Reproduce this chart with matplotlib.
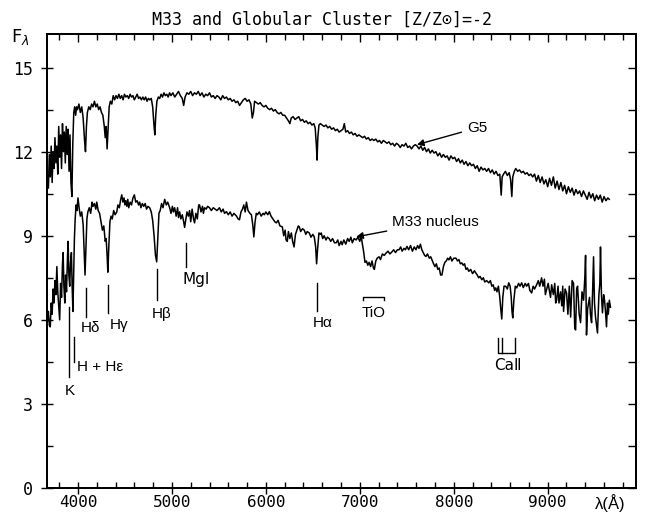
import numpy as np
import matplotlib
matplotlib.use("Agg")
import matplotlib.pyplot as plt
from matplotlib.ticker import MultipleLocator

# spectra: wavelength (A) and flux
g5_wave = [3672,3685,3695,3705,3715,3725,3735,3745,3755,3765,
           3775,3785,3795,3805,3815,3825,3835,3845,3855,3865,
           3875,3885,3895,3905,3915,3925,3935,3945,3955,3965,
           3975,3985,3995,4010,4025,4040,4055,4070,4080,4090,
           4100,4115,4130,4145,4160,4175,4190,4205,4220,4235,
           4250,4265,4280,4290,4300,4310,4320,4332,4345,4360,
           4375,4390,4405,4420,4435,4450,4465,4480,4495,4510,
           4525,4540,4555,4570,4585,4600,4615,4630,4645,4660,
           4675,4690,4705,4720,4735,4750,4765,4780,4795,4810,
           4818,4828,4840,4855,4870,4885,4900,4915,4930,4945,
           4960,4975,4990,5010,5030,5050,5070,5090,5110,5125,
           5140,5160,5180,5200,5220,5240,5260,5280,5300,5320,
           5340,5360,5380,5400,5420,5440,5460,5480,5500,5520,
           5540,5560,5580,5600,5620,5640,5660,5680,5700,5720,
           5740,5760,5780,5800,5820,5840,5855,5868,5880,5900,
           5920,5940,5960,5980,6000,6020,6040,6060,6080,6100,
           6120,6140,6160,6180,6200,6220,6240,6255,6270,6290,
           6310,6330,6350,6370,6390,6410,6430,6450,6470,6490,
           6510,6525,6538,6545,6553,6565,6580,6600,6620,6640,
           6660,6680,6700,6720,6740,6760,6780,6800,6820,6835,
           6850,6870,6890,6910,6930,6950,6970,6990,7010,7030,
           7050,7070,7090,7110,7130,7150,7170,7190,7210,7230,
           7250,7270,7290,7310,7330,7350,7370,7390,7410,7430,
           7450,7470,7490,7510,7530,7550,7570,7590,7610,7630,
           7650,7670,7690,7710,7730,7750,7770,7790,7810,7830,
           7850,7870,7890,7910,7930,7950,7970,7990,8010,8030,
           8050,8070,8090,8110,8130,8150,8170,8190,8210,8230,
           8250,8270,8290,8310,8330,8350,8370,8390,8410,8430,
           8450,8470,8490,8505,8515,8530,8550,8570,8590,8605,
           8618,8628,8645,8660,8680,8700,8720,8740,8760,8780,
           8800,8820,8840,8860,8880,8900,8920,8940,8960,8980,
           9000,9020,9040,9060,9080,9100,9120,9140,9160,9180,
           9200,9220,9240,9260,9280,9300,9320,9340,9360,9380,
           9400,9420,9440,9460,9480,9500,9520,9540,9560,9580,
           9600,9620,9640,9655]
g5_flux = [11.2,10.7,11.9,11.1,12.2,10.9,12.0,11.4,12.5,11.6,
           12.2,11.2,12.9,11.8,12.6,11.4,13.0,12.0,12.7,11.6,
           12.9,11.9,12.8,11.3,12.6,10.9,10.4,12.3,13.4,13.6,
           13.3,13.6,13.5,13.7,13.4,13.6,13.2,12.4,12.0,12.9,
           13.4,13.6,13.5,13.7,13.6,13.8,13.6,13.7,13.5,13.6,
           13.4,13.3,12.9,12.5,12.9,12.1,12.8,13.6,13.8,13.7,
           14.0,13.85,14.0,13.9,14.05,13.9,14.0,13.85,14.05,13.95,
           14.0,13.9,14.05,13.95,14.0,13.85,13.95,14.05,13.9,13.95,
           13.85,13.95,13.85,13.95,13.8,13.9,13.85,13.9,13.6,12.9,
           12.6,13.3,13.8,13.95,13.9,14.05,13.95,14.1,14.0,14.05,
           13.95,14.1,14.0,14.1,13.95,14.05,14.15,14.0,13.9,13.65,
           13.95,14.1,14.05,14.15,14.0,14.1,14.05,14.15,14.0,14.1,
           13.95,14.05,14.0,14.1,13.95,14.0,13.9,14.0,13.95,13.85,
           14.0,13.9,13.95,13.85,13.9,13.8,13.85,13.75,13.8,13.65,
           13.75,13.85,13.9,13.8,13.85,13.7,13.2,13.4,13.8,13.75,
           13.7,13.75,13.65,13.6,13.65,13.55,13.5,13.55,13.45,13.5,
           13.4,13.35,13.4,13.3,13.3,13.2,13.1,13.0,13.2,13.25,
           13.15,13.2,13.25,13.1,13.15,13.05,13.1,13.0,13.05,12.95,
           13.0,12.85,12.2,11.7,12.5,12.95,13.0,12.95,12.9,12.95,
           12.85,12.9,12.8,12.85,12.75,12.8,12.7,12.75,12.8,13.0,
           12.7,12.75,12.65,12.7,12.6,12.65,12.55,12.6,12.55,12.5,
           12.55,12.45,12.5,12.4,12.45,12.4,12.45,12.35,12.4,12.3,
           12.4,12.35,12.3,12.35,12.25,12.3,12.2,12.3,12.25,12.15,
           12.25,12.2,12.3,12.15,12.2,12.1,12.2,12.25,12.2,12.1,
           12.2,12.05,12.15,12.0,12.1,11.95,12.05,11.95,12.0,11.85,
           11.95,11.8,11.9,11.8,11.85,11.7,11.85,11.75,11.8,11.65,
           11.75,11.6,11.7,11.55,11.65,11.5,11.6,11.5,11.55,11.4,
           11.5,11.3,11.45,11.35,11.4,11.3,11.4,11.25,11.35,11.2,
           11.3,11.15,11.2,10.45,11.1,11.2,11.3,11.15,11.25,11.0,
           10.4,11.1,11.3,11.4,11.3,11.35,11.25,11.3,11.2,11.25,
           11.15,11.2,11.1,11.2,10.95,11.15,10.9,11.1,10.85,11.0,
           10.75,11.05,10.8,11.1,10.7,10.95,10.65,10.9,10.6,10.8,
           10.5,10.75,10.55,10.7,10.45,10.65,10.5,10.6,10.4,10.6,
           10.45,10.3,10.55,10.35,10.5,10.25,10.45,10.3,10.45,10.2,
           10.4,10.25,10.35,10.3]

m33_wave = [3672,3685,3695,3705,3715,3725,3735,3745,3755,3765,
            3775,3785,3795,3805,3815,3825,3835,3842,3850,3860,
            3868,3878,3888,3895,3903,3912,3920,3930,3938,3946,
            3955,3962,3970,3980,3990,4000,4012,4025,4040,4055,
            4065,4075,4085,4095,4105,4120,4135,4150,4160,4175,
            4190,4200,4215,4230,4245,4260,4275,4290,4300,4310,
            4318,4328,4340,4352,4365,4380,4395,4413,4425,4440,
            4455,4466,4478,4490,4500,4509,4520,4530,4540,4555,
            4570,4585,4600,4615,4630,4645,4657,4670,4685,4700,
            4715,4730,4745,4763,4780,4795,4810,4825,4838,4850,
            4862,4875,4890,4905,4923,4940,4955,4976,4990,5005,
            5015,5029,5045,5060,5070,5082,5095,5110,5125,5135,
            5148,5160,5175,5188,5200,5215,5230,5241,5255,5270,
            5285,5294,5310,5325,5335,5347,5365,5380,5400,5420,
            5440,5460,5480,5506,5525,5545,5560,5580,5600,5620,
            5640,5660,5687,5705,5719,5735,5751,5765,5780,5793,
            5810,5830,5846,5860,5872,5885,5898,5910,5930,5950,
            5970,5984,6000,6020,6037,6055,6075,6095,6112,6130,
            6150,6175,6190,6205,6215,6228,6240,6255,6271,6285,
            6300,6315,6330,6345,6356,6370,6390,6409,6425,6440,
            6462,6480,6500,6515,6530,6540,6550,6565,6580,6589,
            6605,6620,6640,6655,6674,6690,6710,6730,6749,6765,
            6780,6800,6812,6830,6850,6870,6887,6905,6920,6940,
            6961,6980,7000,7015,7025,7040,7055,7070,7085,7099,
            7115,7130,7145,7155,7170,7185,7205,7220,7240,7260,
            7279,7300,7320,7343,7360,7380,7400,7417,7435,7450,
            7470,7485,7502,7520,7540,7560,7580,7598,7615,7630,
            7645,7660,7675,7690,7704,7720,7740,7755,7768,7785,
            7800,7815,7830,7845,7860,7874,7890,7905,7920,7935,
            7948,7965,7980,8000,8023,8040,8055,8070,8086,8100,
            8115,8130,8145,8160,8180,8200,8220,8235,8250,8265,
            8280,8299,8315,8330,8350,8373,8390,8405,8420,8435,
            8447,8460,8475,8490,8500,8511,8522,8535,8553,8570,
            8585,8600,8612,8620,8628,8640,8655,8670,8690,8705,
            8723,8740,8760,8776,8795,8810,8829,8845,8860,8882,
            8900,8915,8935,8950,8965,8975,8988,9005,9020,9030,
            9042,9060,9075,9085,9095,9110,9120,9137,9150,9160,
            9169,9185,9201,9215,9230,9244,9260,9275,9288,9297,
            9308,9318,9335,9350,9365,9382,9395,9403,9410,9413,
            9425,9445,9455,9467,9478,9488,9498,9509,9520,9530,
            9545,9555,9562,9572,9583,9595,9605,9615,9626,9636,
            9645,9656,9668]
m33_flux = [5.9,6.3,5.8,5.75,6.6,6.2,7.1,6.6,7.4,6.9,
            7.9,7.0,6.5,6.0,7.3,6.8,8.0,8.4,7.2,6.6,
            7.6,7.0,8.2,8.8,7.6,7.2,8.0,8.4,7.2,6.3,
            7.8,8.9,9.6,10.1,9.9,10.35,10.0,9.7,9.85,9.4,
            8.5,7.6,8.6,9.6,9.85,10.0,9.8,10.2,10.05,10.15,
            9.95,10.2,9.9,9.8,9.5,9.2,9.35,8.8,8.9,8.3,
            7.7,8.6,9.5,9.7,9.6,9.9,9.75,9.85,10.1,10.0,
            10.3,10.46,10.2,10.35,10.1,10.25,10.05,10.3,10.0,10.2,
            10.1,10.35,10.46,10.2,10.25,10.1,10.2,10.0,10.15,10.05,
            10.15,9.95,10.05,10.0,9.85,9.55,9.0,8.3,8.07,8.9,
            9.8,9.9,10.15,10.0,10.3,10.1,10.2,10.0,9.8,10.05,
            9.85,10.0,9.7,10.0,9.65,9.85,9.6,9.75,9.5,9.3,
            9.6,9.85,9.7,9.9,9.5,9.95,9.6,9.46,9.8,9.6,
            10.1,10.1,9.85,10.05,9.8,10.0,9.95,10.05,10.0,9.9,
            10.0,9.95,9.9,10.0,9.85,9.95,9.8,9.86,9.75,9.85,
            9.7,9.8,9.7,9.6,9.57,9.85,9.95,10.1,9.85,10.2,
            9.9,9.8,9.75,9.4,8.96,9.5,9.8,9.75,9.85,9.7,
            9.8,9.75,9.85,9.75,9.86,9.7,9.6,9.5,9.46,9.55,
            9.35,9.32,9.0,9.2,8.85,8.8,9.15,8.9,9.1,8.8,
            8.6,9.05,9.2,9.35,9.32,9.15,9.25,9.2,9.05,9.15,
            9.1,8.95,9.05,8.96,8.6,8.0,8.5,9.1,9.05,9.1,
            8.9,9.0,8.85,8.95,8.9,8.8,8.9,8.75,8.75,8.85,
            8.65,8.8,8.68,8.85,8.7,8.9,8.8,8.95,8.75,8.9,
            8.85,8.95,8.8,9.0,8.75,8.45,8.05,8.1,7.95,8.05,
            7.9,8.1,7.85,7.8,8.1,8.2,8.25,8.15,8.35,8.3,
            8.38,8.45,8.35,8.43,8.5,8.4,8.5,8.5,8.6,8.45,
            8.55,8.5,8.62,8.5,8.65,8.45,8.6,8.5,8.65,8.55,
            8.7,8.5,8.4,8.3,8.26,8.35,8.2,8.25,8.14,8.0,
            7.9,8.0,7.8,7.85,7.6,7.6,7.9,8.05,8.1,8.2,
            8.14,8.25,8.1,8.2,8.2,8.1,8.15,8.0,8.03,7.95,
            8.0,7.8,7.85,7.73,7.8,7.65,7.75,7.67,7.6,7.5,
            7.55,7.43,7.5,7.35,7.4,7.32,7.4,7.2,7.25,7.05,
            7.14,7.0,7.2,6.8,6.4,6.03,6.8,7.2,7.2,7.1,
            7.32,7.2,6.8,6.3,6.07,6.7,7.2,7.14,7.3,7.2,
            7.32,7.15,7.3,7.2,7.3,7.05,6.96,7.2,7.1,7.25,
            7.4,7.2,7.5,7.2,7.45,6.9,7.07,7.3,7.0,6.8,
            7.25,6.9,7.3,6.6,6.7,7.2,6.6,7.0,6.5,7.2,
            6.3,7.1,6.95,6.2,7.2,6.1,7.4,7.3,5.7,5.64,
            7.1,7.2,6.2,5.9,7.0,6.7,7.5,8.3,6.5,5.46,
            6.4,6.8,6.2,5.9,7.0,8.25,6.6,6.1,5.8,5.53,
            6.9,7.3,8.6,6.9,6.25,6.9,6.7,6.3,5.75,6.6,
            6.2,6.7,6.45]

# line identifications: label, wavelength of the marker, marker top/bottom
line_labels = ["K", "H + H\u03b5", "H\u03b4", "H\u03b3", "H\u03b2", "Mg\u2160", "H\u03b1"]
line_waves = [3905, 3955, 4084, 4318, 4838, 5146, 6547]
line_top = [6.45, 5.4, 7.15, 7.25, 7.8, 8.75, 7.3]
line_bot = [3.95, 4.5, 6.1, 6.25, 6.7, 7.9, 6.3]

mono = ["DejaVu Sans Mono", "DejaVu Sans"]
sans = ["Liberation Sans", "DejaVu Sans"]
roman = ["DejaVu Sans"]

fig = plt.figure(figsize=(6.48, 5.14), dpi=100)
ax = fig.add_axes([0.0725, 0.0506, 0.909, 0.8833])

ax.plot(g5_wave, g5_flux, color="black", lw=1.1)
ax.plot(m33_wave, m33_flux, color="black", lw=1.1)

for w, t, b in zip(line_waves, line_top, line_bot):
    ax.plot([w, w], [b, t], color="black", lw=1.0)

# labels of the lines
ax.text(3914, 3.45, line_labels[0], family=sans, fontsize=11, ha="center", va="center")
ax.text(3985, 4.3, line_labels[1], family=sans, fontsize=11, ha="left", va="center")
ax.text(4030, 5.7, line_labels[2], family=sans, fontsize=11, ha="left", va="center")
ax.text(4340, 5.82, line_labels[3], family=sans, fontsize=11, ha="left", va="center")
ax.text(4890, 6.2, line_labels[4], family=sans, fontsize=11, ha="center", va="center")
ax.text(5263, 7.45, line_labels[5], family=roman, fontsize=11, ha="center", va="center")
ax.text(6494, 5.9, line_labels[6], family=sans, fontsize=11, ha="left", va="center")

# TiO bracket
ax.plot([7035, 7035, 7258, 7258], [6.7, 6.8, 6.8, 6.7], color="black", lw=1.0)
ax.text(7150, 6.25, "TiO", family=sans, fontsize=11, ha="center", va="center")

# CaII triplet bracket
ax.plot([8468, 8468, 8650, 8650], [5.36, 4.82, 4.82, 5.36], color="black", lw=1.0)
ax.plot([8510, 8510], [5.36, 4.82], color="black", lw=1.0)
ax.text(8575, 4.38, "Ca\u2161", family=roman, fontsize=11, ha="center", va="center")

# spectrum names with arrows
ax.annotate("G5", xy=(7608, 12.25), xytext=(8140, 12.85), family=sans, fontsize=11,
            ha="left", va="center",
            arrowprops=dict(arrowstyle="-|>", color="black", lw=1.0, shrinkA=2, shrinkB=0,
                            mutation_scale=10))
ax.annotate("M33 nucleus", xy=(6961, 8.96), xytext=(7345, 9.5), family=sans, fontsize=11,
            ha="left", va="center",
            arrowprops=dict(arrowstyle="-|>", color="black", lw=1.0, shrinkA=2, shrinkB=0,
                            mutation_scale=10))

ax.set_xlim(3670, 9940)
ax.set_ylim(0, 16.2)
ax.xaxis.set_major_locator(MultipleLocator(1000))
ax.xaxis.set_minor_locator(MultipleLocator(200))
ax.yaxis.set_major_locator(MultipleLocator(3))
ax.yaxis.set_minor_locator(MultipleLocator(1.5))
ax.set_xticks([4000, 5000, 6000, 7000, 8000, 9000])
ax.set_xticklabels(["4000", "5000", "6000", "7000", "8000", "9000"])

ax.tick_params(which="major", direction="inout", length=8, width=1.0, labelsize=12)
ax.tick_params(which="minor", direction="in", length=4, width=1.0)
ax.tick_params(axis="x", which="major", pad=1, labelsize=11.5)
ax.tick_params(axis="y", which="major", pad=6)
for lab in ax.get_xticklabels() + ax.get_yticklabels():
    lab.set_family(mono)

# inward ticks on the top and right sides
axt = ax.twiny()
axt.set_xlim(ax.get_xlim())
axt.xaxis.set_major_locator(MultipleLocator(1000))
axt.xaxis.set_minor_locator(MultipleLocator(200))
axt.tick_params(which="major", direction="in", length=6, width=1.0, labeltop=False)
axt.tick_params(which="minor", direction="in", length=4, width=1.0)
axr = ax.twinx()
axr.set_ylim(ax.get_ylim())
axr.yaxis.set_major_locator(MultipleLocator(1.5))
axr.tick_params(which="major", direction="in", length=6, width=1.0, labelright=False)

for a in (ax, axt, axr):
    for s in a.spines.values():
        s.set_linewidth(1.2)

fig.text(0.497, 0.961, "M33 and Globular Cluster [Z/Z\u2299]=-2", family=mono,
         fontsize=12, ha="center", va="center")
fig.text(0.031, 0.928, "F$_\\lambda$", fontsize=13, ha="center", va="center")
fig.text(0.941, 0.022, "\u03bb(\u00c5)", family=sans, fontsize=12, ha="center", va="center")

fig.savefig("out.png", dpi=100)
